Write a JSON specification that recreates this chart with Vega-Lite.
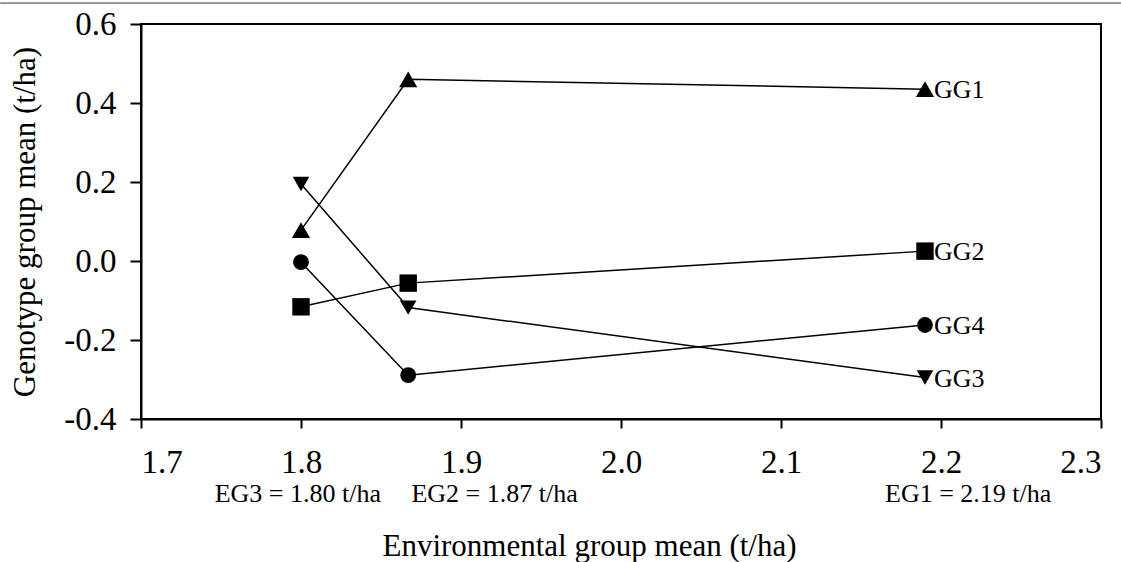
{
  "$schema": "https://vega.github.io/schema/vega-lite/v6.json",
  "autosize": "none",
  "width": 960,
  "height": 395,
  "padding": {"left": 141, "top": 24, "right": 20, "bottom": 143},
  "background": "white",
  "config": {
    "font": "Liberation Serif",
    "view": {"stroke": "black", "strokeWidth": 2},
    "axis": {
      "grid": false,
      "domainColor": "black",
      "domainWidth": 2,
      "tickColor": "black",
      "tickWidth": 2,
      "labelColor": "black",
      "labelFont": "Liberation Serif",
      "labelFontSize": 33,
      "titleFont": "Liberation Serif",
      "titleFontSize": 31,
      "titleFontWeight": "normal",
      "titleColor": "black"
    }
  },
  "datasets": {
    "means": [
      {"group": "GG1", "env": 1.80, "mean": 0.078},
      {"group": "GG1", "env": 1.867, "mean": 0.460},
      {"group": "GG1", "env": 2.19, "mean": 0.435},
      {"group": "GG2", "env": 1.80, "mean": -0.116},
      {"group": "GG2", "env": 1.867, "mean": -0.056},
      {"group": "GG2", "env": 2.19, "mean": 0.025},
      {"group": "GG3", "env": 1.80, "mean": 0.195},
      {"group": "GG3", "env": 1.867, "mean": -0.118},
      {"group": "GG3", "env": 2.19, "mean": -0.295},
      {"group": "GG4", "env": 1.80, "mean": -0.003},
      {"group": "GG4", "env": 1.867, "mean": -0.289},
      {"group": "GG4", "env": 2.19, "mean": -0.162}
    ],
    "eglabels": [
      {"label": "EG3 = 1.80 t/ha", "lx": 1.798, "ly": -0.61},
      {"label": "EG2 = 1.87 t/ha", "lx": 1.921, "ly": -0.61},
      {"label": "EG1 = 2.19 t/ha", "lx": 2.217, "ly": -0.61}
    ],
    "border": [
      {"x1": 1.612, "x2": 2.338, "y": 0.653}
    ]
  },
  "layer": [
    {
      "mark": {"type": "rule", "color": "black", "strokeWidth": 1, "strokeDash": [25, 4.5, 2.5, 4.5]},
      "encoding": {"y": {"datum": 0, "type": "quantitative", "scale": {"domain": [-0.4, 0.6]}}}
    },
    {
      "data": {"name": "border"},
      "mark": {"type": "rule", "color": "#333333", "strokeWidth": 1, "clip": false},
      "encoding": {
        "x": {"field": "x1", "type": "quantitative"},
        "x2": {"field": "x2"},
        "y": {"field": "y", "type": "quantitative"}
      }
    },
    {
      "data": {"name": "means"},
      "mark": {"type": "line", "color": "black", "strokeWidth": 1.5},
      "encoding": {
        "x": {
          "field": "env", "type": "quantitative",
          "scale": {"domain": [1.7, 2.3], "nice": false, "zero": false},
          "axis": {
            "values": [1.7, 1.8, 1.9, 2.0, 2.1, 2.2, 2.3],
            "labelExpr": "format(datum.value, '.1f')",
            "tickSize": 9,
            "labelPadding": 18,
            "title": "Environmental group mean (t/ha)",
            "titlePadding": 52,
            "titleX": 448
          }
        },
        "y": {
          "field": "mean", "type": "quantitative",
          "scale": {"domain": [-0.4, 0.6], "nice": false, "zero": false},
          "axis": {
            "values": [-0.4, -0.2, 0, 0.2, 0.4, 0.6],
            "labelExpr": "replace(format(datum.value, '.1f'), '\u2212', '-')",
            "tickSize": 11,
            "labelPadding": 14,
            "title": "Genotype group mean (t/ha)",
            "titlePadding": 22
          }
        },
        "detail": {"field": "group", "type": "nominal"}
      }
    },
    {
      "data": {"name": "means"},
      "mark": {"type": "point", "filled": true, "color": "black", "opacity": 1},
      "encoding": {
        "x": {"field": "env", "type": "quantitative"},
        "y": {"field": "mean", "type": "quantitative"},
        "shape": {
          "field": "group", "type": "nominal",
          "scale": {"domain": ["GG1", "GG2", "GG3", "GG4"], "range": ["triangle-up", "square", "triangle-down", "circle"]},
          "legend": null
        },
        "size": {
          "field": "group", "type": "ordinal",
          "scale": {"domain": ["GG1", "GG2", "GG3", "GG4"], "range": [330, 250, 350, 285]},
          "legend": null
        }
      }
    },
    {
      "data": {"name": "means"},
      "transform": [{"filter": "datum.env > 2"}],
      "mark": {"type": "text", "align": "left", "baseline": "alphabetic", "dx": 9, "dy": 9, "fontSize": 26, "font": "Liberation Serif", "color": "black"},
      "encoding": {
        "x": {"field": "env", "type": "quantitative"},
        "y": {"field": "mean", "type": "quantitative"},
        "text": {"field": "group"}
      }
    },
    {
      "data": {"name": "eglabels"},
      "mark": {"type": "text", "align": "center", "baseline": "alphabetic", "fontSize": 26, "font": "Liberation Serif", "color": "black"},
      "encoding": {
        "x": {"field": "lx", "type": "quantitative"},
        "y": {"field": "ly", "type": "quantitative"},
        "text": {"field": "label"}
      }
    }
  ]
}
